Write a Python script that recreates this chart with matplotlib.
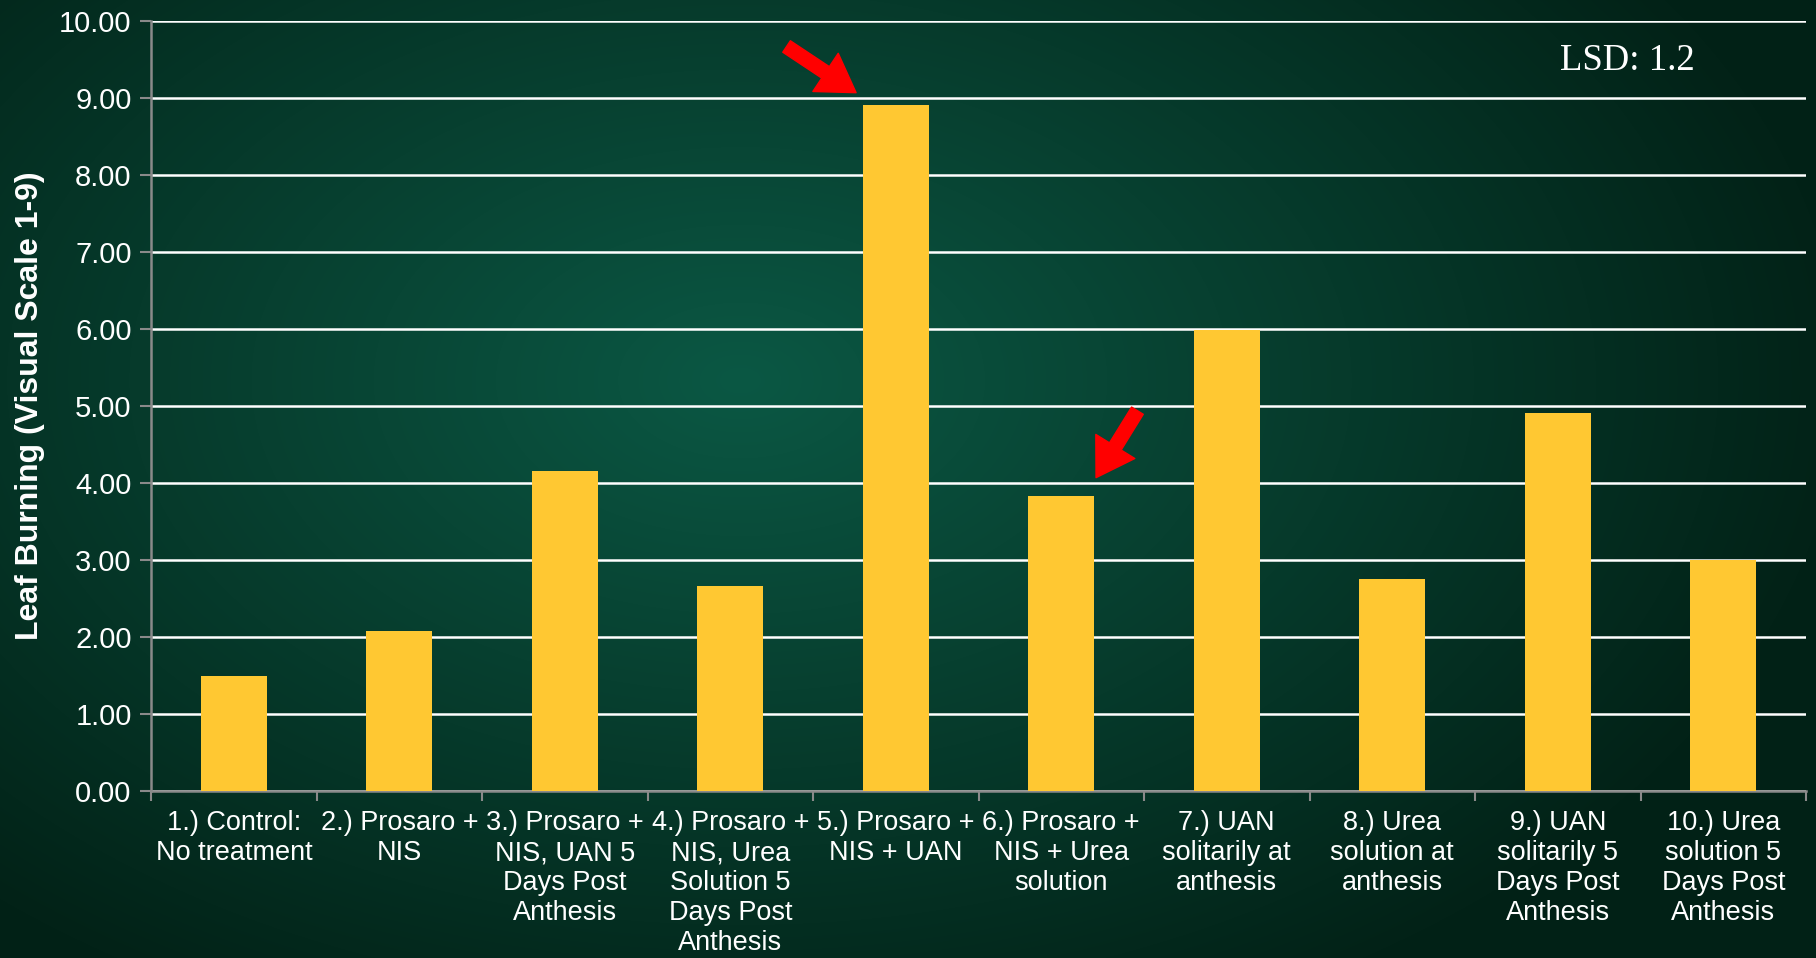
import numpy as np
import matplotlib.pyplot as plt

categories = [
    "1.) Control:\nNo treatment",
    "2.) Prosaro +\nNIS",
    "3.) Prosaro +\nNIS, UAN 5\nDays Post\nAnthesis",
    "4.) Prosaro +\nNIS, Urea\nSolution 5\nDays Post\nAnthesis",
    "5.) Prosaro +\nNIS + UAN",
    "6.) Prosaro +\nNIS + Urea\nsolution",
    "7.) UAN\nsolitarily at\nanthesis",
    "8.) Urea\nsolution at\nanthesis",
    "9.) UAN\nsolitarily 5\nDays Post\nAnthesis",
    "10.) Urea\nsolution 5\nDays Post\nAnthesis",
]
values = [1.50, 2.08, 4.16, 2.66, 8.91, 3.83, 5.99, 2.75, 4.91, 3.00]
yticks = np.arange(0, 11, 1)

fig = plt.figure(figsize=(18.16, 9.58), dpi=100)

# radial gradient background
bg = fig.add_axes([0, 0, 1, 1], zorder=-10)
h, w = 958, 1816
yy, xx = np.mgrid[0:h, 0:w]
d = np.sqrt(((xx - 740) / 1100.0) ** 2 + ((yy - 380) / 700.0) ** 2)
d = np.clip(d, 0, 1)
c_in = np.array([0x0b, 0x58, 0x44]) / 255.0
c_out = np.array([0x02, 0x22, 0x17]) / 255.0
img = c_in[None, None, :] * (1 - d[..., None]) + c_out[None, None, :] * d[..., None]
bg.imshow(img, aspect="auto", extent=[0, 1, 0, 1])
bg.axis("off")

ax = fig.add_axes([0.0832, 0.1743, 0.9113, 0.8037])
ax.patch.set_alpha(0)
x = np.arange(len(values))
ax.bar(x, values, width=0.4, color="#FFC832", zorder=3)

ax.set_ylim(0, 10)
ax.set_xlim(-0.5, len(values) - 0.5)
ax.set_yticks(yticks)
ax.set_yticklabels([f"{v:.2f}" for v in yticks], fontsize=21, color="white",
                   family="Liberation Sans")
ax.yaxis.grid(True, color="white", linewidth=1.8, zorder=1)
ax.set_axisbelow(True)

ax.set_xticks(x)
ax.set_xticklabels(categories, fontsize=19.5, color="white", family="Liberation Sans",
                   linespacing=1.2)
ax.tick_params(axis="x", which="major", length=0, pad=14)
ax.set_xticks(np.arange(-0.5, len(values) + 0.5, 1), minor=True)
ax.tick_params(axis="x", which="minor", length=7, width=1.5, color="#8a8a8a")
ax.tick_params(axis="y", length=8, width=1.5, color="#8a8a8a", pad=6)

for s in ["top", "right"]:
    ax.spines[s].set_visible(False)
for s in ["left", "bottom"]:
    ax.spines[s].set_color("#8a8a8a")
    ax.spines[s].set_linewidth(1.8)

ax.set_ylabel("Leaf Burning (Visual Scale 1-9)", fontsize=23, fontweight="bold",
              color="white", family="Liberation Sans")
ax.yaxis.set_label_coords(-0.064, 0.5)

ax.text(8.42, 9.49, "LSD: 1.2", fontsize=26.5, color="white",
        family="Liberation Serif", ha="center", va="center")

arrow = dict(arrowstyle="simple,head_length=1.2,head_width=1.5,tail_width=0.45",
             color="#FF0000", shrinkA=0, shrinkB=0, mutation_scale=22)
ax.annotate("", xy=(3.76, 9.07), xytext=(3.34, 9.67), arrowprops=arrow,
            annotation_clip=False, zorder=5)
ax.annotate("", xy=(5.21, 4.07), xytext=(5.46, 4.94), arrowprops=arrow, zorder=5)

plt.savefig("out.png", dpi=100)
